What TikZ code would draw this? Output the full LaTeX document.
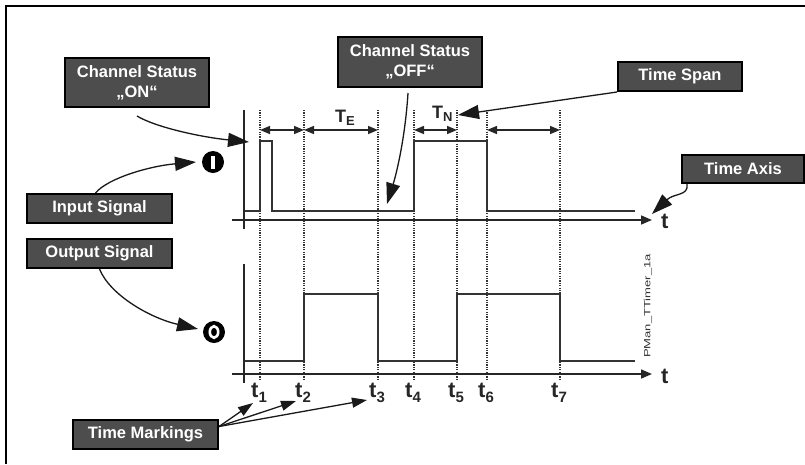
\documentclass[tikz,border=0pt]{standalone}
\usepackage{fontspec}
\setmainfont{Liberation Sans}
\usetikzlibrary{arrows.meta}
\definecolor{boxgray}{RGB}{77,77,77}
\begin{document}
\begin{tikzpicture}[x=1pt,y=-1pt,
  labelbox/.style={draw=black, line width=2pt, fill=boxgray, text=white,
    font=\fontsize{16.5}{20}\selectfont\bfseries, inner sep=0pt, align=center},
  callout/.style={line width=1.3pt, draw=black!90, -{Triangle[length=21pt,width=14pt]}},
  smallcallout/.style={line width=1.3pt, draw=black!90, -{Triangle[length=15pt,width=10pt]}},
  spanarrow/.style={line width=1.5pt, draw=black!85,
    {Triangle[length=10pt,width=8pt]}-{Triangle[length=10pt,width=8pt]}},
  axisline/.style={line width=1.6pt, draw=black!85},
  axisarrow/.style={axisline, -{Triangle[length=11pt,width=9pt]}},
  signal/.style={line width=1.8pt, draw=black!80},
  marker/.style={line width=1.3pt, draw=black!80, dash pattern=on 1.2pt off 1.2pt},
  tlabel/.style={inner sep=0pt, font=\fontsize{22}{22}\selectfont\bfseries, text=black!85},
  capt/.style={inner sep=0pt, font=\fontsize{18}{18}\selectfont\bfseries, text=black!85},
  symbol/.style={circle, fill=black, minimum size=22pt, inner sep=0pt}]

\useasboundingbox (0,0) rectangle (805,464);

% frame (top and left edges)
\draw[line width=2pt] (805,6) -- (6,6) -- (6,464);

% time markers, span anchors and time labels
\foreach \x/\n in {260/1,304/2,378/3,414/4,457/5,487/6,560/7} {
  \draw[marker] (\x,110) -- (\x,380);
  \coordinate (s\n) at (\x,130);
  \node[tlabel, anchor=base west] (t\n) at (\x-9,397)
    {t\raisebox{-5pt}{\fontsize{15}{15}\selectfont\n}};
}

% input signal
\draw[signal] (244,211) -- (260,211) -- (260,141) -- (272,141) -- (272,211)
  -- (414,211) -- (414,141) -- (487,141) -- (487,211) -- (635,211);
% output signal
\draw[signal] (244,361) -- (304,361) -- (304,294) -- (378,294) -- (378,361)
  -- (457,361) -- (457,294) -- (560,294) -- (560,361) -- (635,361);

% axes
\coordinate (ax1) at (232,220);
\coordinate (ax1end) at (652,220);
\coordinate (ax2) at (232,374);
\coordinate (ax2end) at (652,374);
\draw[axisline] (244,110) -- (244,229);
\draw[axisline] (244,264) -- (244,383);
\draw[axisarrow] (ax1) -- (ax1end);
\draw[axisarrow] (ax2) -- (ax2end);
\node[tlabel, anchor=base west] (tax1) at (661,228) {t};
\node[tlabel, anchor=base west] (tax2) at (661,383) {t};

% time spans
\draw[spanarrow] (s1) -- (s2);
\draw[spanarrow] (s2) -- (s3);
\draw[spanarrow] (s4) -- (s5);
\draw[spanarrow] (s6) -- (s7);
\node[capt, anchor=base west] (TE) at (335,122) {T\raisebox{-3pt}{\fontsize{13}{13}\selectfont E}};
\node[capt, anchor=base west] (TN) at (432,118) {T\raisebox{-3pt}{\fontsize{13}{13}\selectfont N}};

% signal symbols
\node[symbol] (symI) at (213,162) {};
\fill[white] ([xshift=-2pt,yshift=-6.5pt]symI.center) rectangle ([xshift=2pt,yshift=6.5pt]symI.center);
\node[symbol] (symO) at (214,332) {};
\draw[white, line width=2.6pt] (symO.center) ellipse [x radius=4.2pt, y radius=5.8pt];

% drawing id
\node[rotate=90, inner sep=0pt, text=black!80, font=\fontsize{9}{9}\selectfont] (pid) at (648,306)
  {\scalebox{1.45}[1]{PMan\_TTimer\_1a}};

% callout boxes
\node[labelbox, minimum width=144pt, minimum height=49pt] (on) at (137,82.5) {Channel Status\\„ON“};
\node[labelbox, minimum width=144pt, minimum height=50pt] (off) at (410,62) {Channel Status\\„OFF“};
\node[labelbox, minimum width=124pt, minimum height=29pt] (tspan) at (680,76.5) {Time Span};
\node[labelbox, minimum width=122pt, minimum height=28pt] (taxis) at (743,169) {Time Axis};
\node[labelbox, minimum width=145pt, minimum height=29pt] (inp) at (99.5,208.5) {Input Signal};
\node[labelbox, minimum width=145pt, minimum height=29pt] (outp) at (99.5,253.5) {Output Signal};
\node[labelbox, minimum width=145pt, minimum height=29pt] (tmark) at (145.5,434.5) {Time Markings};

% callout connectors
\coordinate (onTip) at (249,142);
\coordinate (offTip) at (387,204);
\coordinate (spanTip) at (458,115);
\coordinate (axisTip) at (652,214);
\coordinate (inTip) at (196,162);
\coordinate (outTip) at (198,329);
\coordinate (mk1) at (253,403);
\coordinate (mk2) at (296,401);
\coordinate (mk3) at (367,400);

\draw[callout] ([yshift=-8pt]on.south) .. controls (155,127) and (200,137) .. (onTip);
\draw[callout] ([xshift=-2pt,yshift=-5pt]off.south) .. controls (405,140) and (396,175) .. (offTip);
\draw[callout] (tspan.south west) -- (spanTip);
\draw[callout] ([xshift=6pt]taxis.south west) .. controls (689,196) and (674,193) .. (axisTip);
\draw[callout] ([xshift=-4pt]inp.north) .. controls (108,178) and (150,166) .. (inTip);
\draw[callout] (outp.south) .. controls (110,295) and (150,318) .. (outTip);
\draw[smallcallout] ([yshift=8pt]tmark.east) -- (mk1);
\draw[smallcallout] ([yshift=8pt]tmark.east) -- (mk2);
\draw[smallcallout] ([yshift=8pt]tmark.east) -- (mk3);

\end{tikzpicture}
\end{document}
